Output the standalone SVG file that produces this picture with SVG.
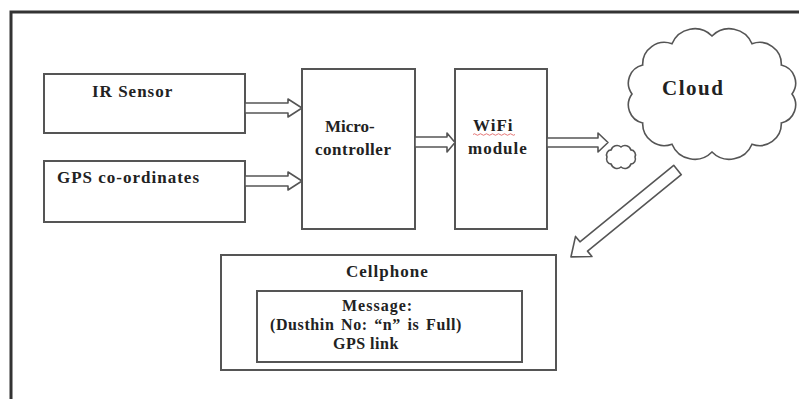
<svg xmlns="http://www.w3.org/2000/svg" width="799" height="399" viewBox="0 0 799 399">
<rect width="799" height="399" fill="#fff"/>
<g id="frame" fill="none" stroke="#333" stroke-width="3">
<path d="M11,399 V12 H799"/>
</g>
<g fill="#fff" stroke="#555" stroke-width="2">
<g id="ir-sensor">
<rect x="44" y="74" width="201" height="59"/>
<text x="92" y="97" font-family="Liberation Serif, serif" font-weight="bold" font-size="17" fill="#222" stroke="none" letter-spacing="1">IR Sensor</text>
</g>
<g id="gps">
<rect x="44" y="161" width="201" height="61"/>
<text x="57" y="183" font-family="Liberation Serif, serif" font-weight="bold" font-size="17" fill="#222" stroke="none" letter-spacing="1">GPS co-ordinates</text>
</g>
<g id="microcontroller">
<rect x="302" y="69" width="113" height="160"/>
<text x="325" y="132" font-family="Liberation Serif, serif" font-weight="bold" font-size="17" fill="#222" stroke="none">Micro-</text>
<text x="315" y="155" font-family="Liberation Serif, serif" font-weight="bold" font-size="17" fill="#222" stroke="none" letter-spacing="0.5">controller</text>
</g>
<g id="wifi">
<rect x="455" y="69" width="92" height="160"/>
<text x="473" y="131" font-family="Liberation Serif, serif" font-weight="bold" font-size="17" fill="#222" stroke="none" letter-spacing="1">WiFi</text>
<path d="M473,134.5 q1.5,-1.5 3,0 t3,0 t3,0 t3,0 t3,0 t3,0 t3,0 t3,0 t3,0 t3,0 t3,0 t3,0 t3,0 t3,0" fill="none" stroke="#d55" stroke-width="0.8"/>
<text x="468" y="154" font-family="Liberation Serif, serif" font-weight="bold" font-size="17" fill="#222" stroke="none" letter-spacing="1">module</text>
</g>
<g id="small-cloud">
<path stroke-width="1.6" d="M635,157 A5,5 0 0 1 630.9,164.1 A6.2,6.2 0 0 1 621,167 A6.2,6.2 0 0 1 611.1,164.1 A5,5 0 0 1 607,157 A5,5 0 0 1 611.1,149.9 A6.2,6.2 0 0 1 621,147 A6.2,6.2 0 0 1 630.9,149.9 A5,5 0 0 1 635,157 Z"/>
</g>
<g id="cloud">
<path stroke-width="1.6" d="M792,94 A18.5,18.5 0 0 1 781.3,123 A21.7,21.7 0 0 1 752,144.2 A24.5,24.5 0 0 1 712,152 A24.5,24.5 0 0 1 672,144.2 A21.7,21.7 0 0 1 642.7,123 A18.5,18.5 0 0 1 632,94 A18.5,18.5 0 0 1 642.7,65 A21.7,21.7 0 0 1 672,43.8 A24.5,24.5 0 0 1 712,36 A24.5,24.5 0 0 1 752,43.8 A21.7,21.7 0 0 1 781.3,65 A18.5,18.5 0 0 1 792,94 Z"/>
<text x="662" y="95" font-family="Liberation Serif, serif" font-weight="bold" font-size="21" fill="#222" stroke="none" letter-spacing="1.5">Cloud</text>
</g>
<g id="cellphone">
<rect x="221" y="255" width="335" height="115"/>
<text x="346" y="277" font-family="Liberation Serif, serif" font-weight="bold" font-size="17" fill="#222" stroke="none" letter-spacing="1">Cellphone</text>
<rect x="257" y="291" width="265" height="71"/>
<text x="342" y="311" font-family="Liberation Serif, serif" font-weight="bold" font-size="16" fill="#222" stroke="none" letter-spacing="1">Message:</text>
<text x="270" y="330" font-family="Liberation Serif, serif" font-weight="bold" font-size="16" fill="#222" stroke="none" letter-spacing="0.6" word-spacing="2">(Dusthin No: “n” is Full)</text>
<text x="333" y="349" font-family="Liberation Serif, serif" font-weight="bold" font-size="16" fill="#222" stroke="none" letter-spacing="0.5">GPS link</text>
</g>
</g>
<g id="connectors" fill="#fff" stroke="#555" stroke-width="1.6" stroke-linejoin="round">
<polygon points="245,103 288,103 288,99 302,108 288,117 288,113 245,113"/>
<polygon points="245,176 288,176 288,172 302,181 288,190 288,186 245,186"/>
<polygon points="415,137 447,137 447,133 455,142.5 447,152 447,147 415,147"/>
<polygon points="547,138 598,138 598,133 608,142.5 598,152 598,147 547,147"/>
<polygon transform="translate(677.5,170) rotate(140.8)" points="0,-6 121,-6 121,-13 137.5,0 121,13 121,6 0,6"/>
</g>
</svg>
